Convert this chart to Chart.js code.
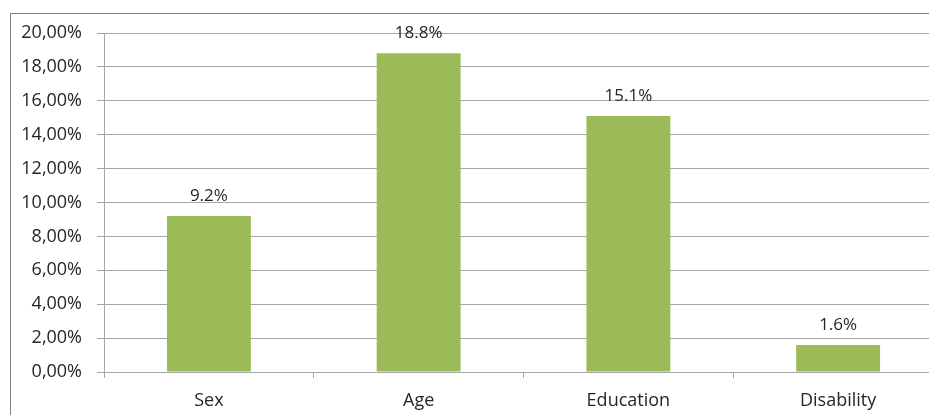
<!DOCTYPE html>
<html>
<head>
<meta charset="utf-8">
<script src="https://cdn.jsdelivr.net/npm/chart.js@4"></script>
<style>
  html, body { margin: 0; padding: 0; background: #fff; overflow: hidden; }
  #wrap { width: 929px; height: 415px; overflow: hidden; }
</style>
</head>
<body>
<!-- the reference is cut off on the right, so the canvas runs past the window -->
<div id="wrap"><canvas id="barChart" width="960" height="415"></canvas></div>
<script>
// data
var categories = ["Sex", "Age", "Education", "Disability"];
var shares = [9.2, 18.8, 15.1, 1.6];
var shareLabels = ["9.2%", "18.8%", "15.1%", "1.6%"];

var gridGrey = "#a6a6a6";
var textCol = "#262626";
var font = "'Open Sans', 'Liberation Sans', sans-serif";

// outer frame round the whole chart
var framePlugin = {
    id: 'frame',
    beforeDraw: function(chart) {
        var ctx = chart.ctx;
        ctx.save();
        ctx.strokeStyle = "#7f7f7f";
        ctx.lineWidth = 1;
        ctx.strokeRect(10.5, 13.5, 945, 420);
        ctx.restore();
    }
};

// value labels above bars
var valuePlugin = {
    id: 'values',
    afterDatasetsDraw: function(chart) {
        var ctx = chart.ctx;
        var meta = chart.getDatasetMeta(0);
        ctx.save();
        ctx.font = "17px " + font;
        ctx.fillStyle = textCol;
        ctx.textAlign = "center";
        ctx.textBaseline = "alphabetic";
        meta.data.forEach(function(bar, i) {
            ctx.fillText(shareLabels[i], bar.x, bar.y - 15);
        });
        ctx.restore();
    }
};

var chart1 = document.getElementById("barChart");
var barChart = new Chart(chart1, {
    type: 'bar',
    data: {
        labels: categories,
        datasets: [{
            data: shares,
            backgroundColor: "#9bbb59",
            borderWidth: 0,
            categoryPercentage: 1,
            barPercentage: 0.4
        }]
    },
    options: {
        responsive: false,
        animation: false,
        events: [],
        layout: {
            padding: { left: 14, right: 17, top: 33, bottom: 3 }
        },
        plugins: {
            legend: { display: false },
            tooltip: { enabled: false }
        },
        scales: {
            x: {
                afterFit: function(scale) { scale.height = 40; },
                grid: {
                    offset: true,
                    drawOnChartArea: false,
                    color: gridGrey,
                    tickLength: 6
                },
                border: { color: gridGrey },
                ticks: {
                    color: textCol,
                    font: { family: font, size: 18 },
                    padding: 12
                }
            },
            y: {
                min: 0,
                max: 20,
                afterFit: function(scale) { scale.width = 90; },
                grid: {
                    color: gridGrey,
                    tickLength: 7
                },
                border: { color: gridGrey },
                ticks: {
                    stepSize: 2,
                    color: textCol,
                    font: { family: font, size: 18 },
                    padding: 15,
                    callback: function(v) { return v.toFixed(2).replace('.', ',') + '%'; }
                }
            }
        }
    },
    plugins: [framePlugin, valuePlugin]
});
</script>
</body>
</html>
